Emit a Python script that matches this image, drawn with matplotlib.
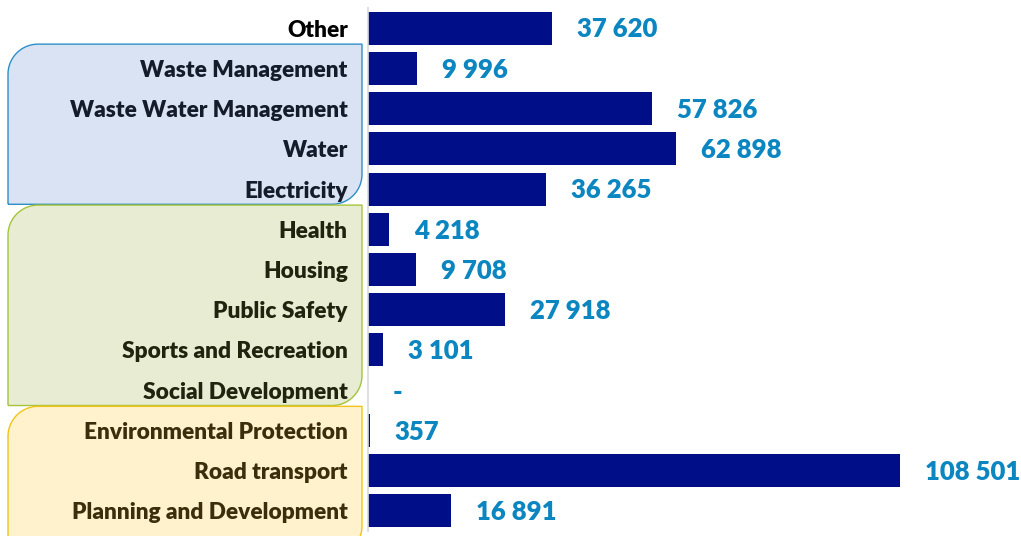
import numpy as np
import matplotlib.pyplot as plt
from matplotlib.patches import PathPatch
from matplotlib.path import Path

CATEGORIES = [
    "Other", "Waste Management", "Waste Water Management", "Water", "Electricity",
    "Health", "Housing", "Public Safety", "Sports and Recreation", "Social Development",
    "Environmental Protection", "Road transport", "Planning and Development",
]
VALUES = [37620, 9996, 57826, 62898, 36265, 4218, 9708, 27918, 3101, 0, 357, 108501, 16891]
VALUE_LABELS = ["37 620", "9 996", "57 826", "62 898", "36 265", "4 218", "9 708",
                "27 918", "3 101", "-", "357", "108 501", "16 891"]

# group boxes: first row, last row, fill, edge, text colour
GROUPS = [
    (1, 4, "#dae3f3", "#2e8fc8", "#141c2b"),
    (5, 9, "#e8ecd3", "#a5c43a", "#20240f"),
    (10, 12, "#fff2cc", "#f0c419", "#3a2e0c"),
]

BAR_COLOR = "#000f87"
VALUE_COLOR = "#0b86c0"
FONT = "Lato"

W, H = 1021, 536
fig = plt.figure(figsize=(W / 100, H / 100), dpi=100)
ax = fig.add_axes([368 / W, 4.9 / H, 653 / W, 523.2 / H])
ax.set_zorder(2)

y = np.arange(len(CATEGORIES))
ax.barh(y, VALUES, height=0.82, color=BAR_COLOR, zorder=3)
ax.set_ylim(len(CATEGORIES) - 0.5, -0.5)
ax.set_xlim(0, 133180)

ax.set_yticks(y)
ax.set_yticklabels(CATEGORIES, fontsize=16.3, fontweight="heavy", fontfamily=FONT)
ax.tick_params(axis="y", length=0, pad=14.5)
ax.set_xticks([])
for s in ["top", "right", "bottom"]:
    ax.spines[s].set_visible(False)
ax.spines["left"].set_color("#d9d9d9")
ax.spines["left"].set_linewidth(1.2)
ax.spines["left"].set_zorder(4)
ax.set_facecolor("none")

row_color = {0: "#000000"}
for first, last, fill, edge, tc in GROUPS:
    for r in range(first, last + 1):
        row_color[r] = tc
for r, lab in enumerate(ax.get_yticklabels()):
    lab.set_color(row_color[r])

# value labels, offset in points from the bar end
for yi, v, lab in zip(y, VALUES, VALUE_LABELS):
    ax.annotate(lab, (v, yi), xytext=(18, -1), textcoords="offset points",
                ha="left", va="center", fontsize=18.5, fontweight="heavy",
                fontfamily=FONT, color=VALUE_COLOR)


def box_path(x0, x1, y0, y1, r):
    # rounded top-left and bottom-right corners, display coords
    pts = [(x0, y0), (x1 - r, y0)]
    t = np.linspace(-np.pi / 2, 0, 20)
    pts += list(zip(x1 - r + r * np.cos(t), y0 + r + r * np.sin(t)))
    pts += [(x1, y1), (x0 + r, y1)]
    t = np.linspace(np.pi / 2, np.pi, 20)
    pts += list(zip(x0 + r + r * np.cos(t), y1 - r + r * np.sin(t)))
    pts.append((x0, y0))
    pts = np.array(pts)
    pts[:, 0] /= W
    pts[:, 1] /= H
    return Path(pts)


for first, last, fill, edge, tc in GROUPS:
    top = ax.transData.transform((0, first - 0.6))[1]
    bot = ax.transData.transform((0, last + 0.38))[1]
    if last == len(CATEGORIES) - 1:
        bot = -20
    patch = PathPatch(box_path(8, 362, bot, top, 30), facecolor=fill,
                      edgecolor=edge, linewidth=1.0, transform=fig.transFigure,
                      zorder=-1)
    fig.patches.append(patch)

fig.savefig("out.png", dpi=100)
